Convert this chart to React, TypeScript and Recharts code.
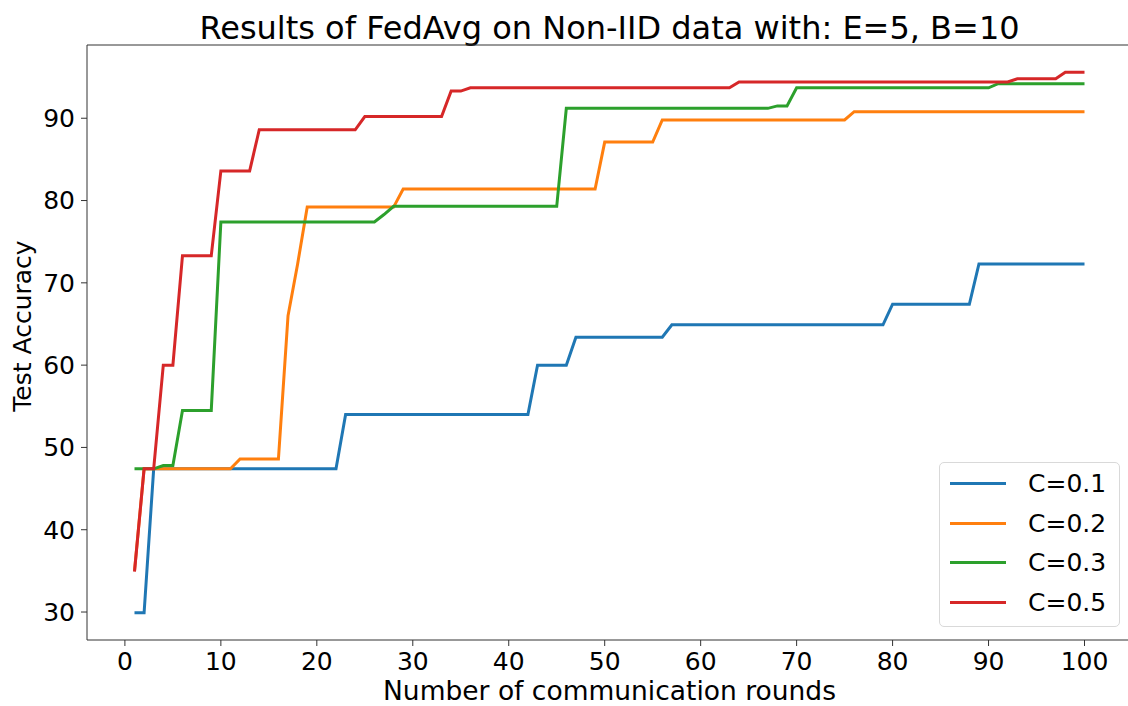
import React from 'react';
import {
  LineChart,
  Line,
  XAxis,
  YAxis,
  Legend,
  ReferenceLine,
  Customized,
} from 'recharts';

// communication rounds 1..100
const rounds = Array.from({ length: 100 }, (_, i) => i + 1);

const accC01 = [
  29.9, 29.9, 47.4, 47.4, 47.4, 47.4, 47.4, 47.4, 47.4, 47.4,
  47.4, 47.4, 47.4, 47.4, 47.4, 47.4, 47.4, 47.4, 47.4, 47.4,
  47.4, 47.4, 54.0, 54.0, 54.0, 54.0, 54.0, 54.0, 54.0, 54.0,
  54.0, 54.0, 54.0, 54.0, 54.0, 54.0, 54.0, 54.0, 54.0, 54.0,
  54.0, 54.0, 60.0, 60.0, 60.0, 60.0, 63.4, 63.4, 63.4, 63.4,
  63.4, 63.4, 63.4, 63.4, 63.4, 63.4, 64.9, 64.9, 64.9, 64.9,
  64.9, 64.9, 64.9, 64.9, 64.9, 64.9, 64.9, 64.9, 64.9, 64.9,
  64.9, 64.9, 64.9, 64.9, 64.9, 64.9, 64.9, 64.9, 64.9, 67.4,
  67.4, 67.4, 67.4, 67.4, 67.4, 67.4, 67.4, 67.4, 72.3, 72.3,
  72.3, 72.3, 72.3, 72.3, 72.3, 72.3, 72.3, 72.3, 72.3, 72.3,
];

const accC02 = [
  35.0, 47.4, 47.4, 47.4, 47.4, 47.4, 47.4, 47.4, 47.4, 47.4,
  47.4, 48.6, 48.6, 48.6, 48.6, 48.6, 66.0, 72.3, 79.2, 79.2,
  79.2, 79.2, 79.2, 79.2, 79.2, 79.2, 79.2, 79.2, 81.4, 81.4,
  81.4, 81.4, 81.4, 81.4, 81.4, 81.4, 81.4, 81.4, 81.4, 81.4,
  81.4, 81.4, 81.4, 81.4, 81.4, 81.4, 81.4, 81.4, 81.4, 87.1,
  87.1, 87.1, 87.1, 87.1, 87.1, 89.8, 89.8, 89.8, 89.8, 89.8,
  89.8, 89.8, 89.8, 89.8, 89.8, 89.8, 89.8, 89.8, 89.8, 89.8,
  89.8, 89.8, 89.8, 89.8, 89.8, 90.8, 90.8, 90.8, 90.8, 90.8,
  90.8, 90.8, 90.8, 90.8, 90.8, 90.8, 90.8, 90.8, 90.8, 90.8,
  90.8, 90.8, 90.8, 90.8, 90.8, 90.8, 90.8, 90.8, 90.8, 90.8,
];

const accC03 = [
  47.4, 47.4, 47.4, 47.8, 47.8, 54.5, 54.5, 54.5, 54.5, 77.4,
  77.4, 77.4, 77.4, 77.4, 77.4, 77.4, 77.4, 77.4, 77.4, 77.4,
  77.4, 77.4, 77.4, 77.4, 77.4, 77.4, 78.3, 79.3, 79.3, 79.3,
  79.3, 79.3, 79.3, 79.3, 79.3, 79.3, 79.3, 79.3, 79.3, 79.3,
  79.3, 79.3, 79.3, 79.3, 79.3, 91.2, 91.2, 91.2, 91.2, 91.2,
  91.2, 91.2, 91.2, 91.2, 91.2, 91.2, 91.2, 91.2, 91.2, 91.2,
  91.2, 91.2, 91.2, 91.2, 91.2, 91.2, 91.2, 91.5, 91.5, 93.7,
  93.7, 93.7, 93.7, 93.7, 93.7, 93.7, 93.7, 93.7, 93.7, 93.7,
  93.7, 93.7, 93.7, 93.7, 93.7, 93.7, 93.7, 93.7, 93.7, 93.7,
  94.2, 94.2, 94.2, 94.2, 94.2, 94.2, 94.2, 94.2, 94.2, 94.2,
];

const accC05 = [
  34.9, 47.4, 47.4, 60.0, 60.0, 73.3, 73.3, 73.3, 73.3, 83.6,
  83.6, 83.6, 83.6, 88.6, 88.6, 88.6, 88.6, 88.6, 88.6, 88.6,
  88.6, 88.6, 88.6, 88.6, 90.2, 90.2, 90.2, 90.2, 90.2, 90.2,
  90.2, 90.2, 90.2, 93.3, 93.3, 93.7, 93.7, 93.7, 93.7, 93.7,
  93.7, 93.7, 93.7, 93.7, 93.7, 93.7, 93.7, 93.7, 93.7, 93.7,
  93.7, 93.7, 93.7, 93.7, 93.7, 93.7, 93.7, 93.7, 93.7, 93.7,
  93.7, 93.7, 93.7, 94.4, 94.4, 94.4, 94.4, 94.4, 94.4, 94.4,
  94.4, 94.4, 94.4, 94.4, 94.4, 94.4, 94.4, 94.4, 94.4, 94.4,
  94.4, 94.4, 94.4, 94.4, 94.4, 94.4, 94.4, 94.4, 94.4, 94.4,
  94.4, 94.4, 94.8, 94.8, 94.8, 94.8, 94.8, 95.6, 95.6, 95.6,
];

const xTicks = [0, 10, 20, 30, 40, 50, 60, 70, 80, 90, 100];
const yTicks = [30, 40, 50, 60, 70, 80, 90];
const xDomain = [-3.95, 104.95];
const yDomain = [26.6, 98.9];

const seriesNames = ['C=0.1', 'C=0.2', 'C=0.3', 'C=0.5'];
const seriesColors = ['#1f77b4', '#ff7f0e', '#2ca02c', '#d62728'];

const data = rounds.map((round, i) => ({
  round,
  c01: accC01[i],
  c02: accC02[i],
  c03: accC03[i],
  c05: accC05[i],
}));

const FONT = 'DejaVu Sans';
const tickStyle = { fill: '#000', fontSize: 25, fontFamily: FONT };

const Labels = () => (
  <g fontFamily={FONT} fill="#000">
    <text x={609.5} y={39} textAnchor="middle" fontSize={32}>
      Results of FedAvg on Non-IID data with: E=5, B=10
    </text>
    <text x={609.5} y={700} textAnchor="middle" fontSize={26.5}>
      Number of communication rounds
    </text>
    <text transform="translate(31,326) rotate(-90)" textAnchor="middle" fontSize={25}>
      Test Accuracy
    </text>
  </g>
);

const renderLegend = (props: any) => {
  const items = props.payload || [];
  return (
    <div
      style={{
        position: 'relative',
        width: 181,
        height: 165,
        boxSizing: 'border-box',
        border: '1.5px solid #d9d9d9',
        borderRadius: 5,
        background: 'rgba(255,255,255,0.8)',
        fontFamily: FONT,
        fontSize: 25,
        color: '#000',
      }}
    >
      {items.map((item: any, i: number) => (
        <div key={item.value}>
          <div
            style={{
              position: 'absolute',
              left: 10,
              top: 19 + i * 39.6,
              width: 56,
              height: 3,
              background: item.color,
            }}
          />
          <div
            style={{
              position: 'absolute',
              left: 88,
              top: 6 + i * 39.6,
              lineHeight: '30px',
              whiteSpace: 'nowrap',
            }}
          >
            {item.value}
          </div>
        </div>
      ))}
    </div>
  );
};

const App: React.FC = () => {
  return (
    <div
      style={{
        position: 'absolute',
        left: 0,
        top: 0,
        width: 1128,
        height: 706,
        overflow: 'hidden',
        background: '#fff',
      }}
    >
      <LineChart
        width={1140}
        height={706}
        data={data}
        margin={{ top: 45, right: 8, bottom: 0, left: 0 }}
      >
        <XAxis
          dataKey="round"
          type="number"
          domain={xDomain}
          ticks={xTicks}
          allowDataOverflow
          height={66}
          tickSize={6}
          tickMargin={6}
          stroke="#333"
          tick={tickStyle}
        />
        <YAxis
          type="number"
          domain={yDomain}
          ticks={yTicks}
          allowDataOverflow
          width={87}
          tickSize={6}
          tickMargin={6}
          stroke="#333"
          tick={tickStyle}
        />
        {/* top spine */}
        <ReferenceLine y={yDomain[1]} stroke="#333" strokeWidth={1} ifOverflow="extendDomain" />
        <Legend
          layout="horizontal"
          verticalAlign="middle"
          align="center"
          wrapperStyle={{ position: 'absolute', left: 939, top: 462, width: 181, height: 165 }}
          content={renderLegend}
        />
        <Line type="linear" dataKey="c01" name={seriesNames[0]} stroke={seriesColors[0]} strokeWidth={3} dot={false} isAnimationActive={false} />
        <Line type="linear" dataKey="c02" name={seriesNames[1]} stroke={seriesColors[1]} strokeWidth={3} dot={false} isAnimationActive={false} />
        <Line type="linear" dataKey="c03" name={seriesNames[2]} stroke={seriesColors[2]} strokeWidth={3} dot={false} isAnimationActive={false} />
        <Line type="linear" dataKey="c05" name={seriesNames[3]} stroke={seriesColors[3]} strokeWidth={3} dot={false} isAnimationActive={false} />
        <Customized component={Labels} />
      </LineChart>
    </div>
  );
};

export default App;
